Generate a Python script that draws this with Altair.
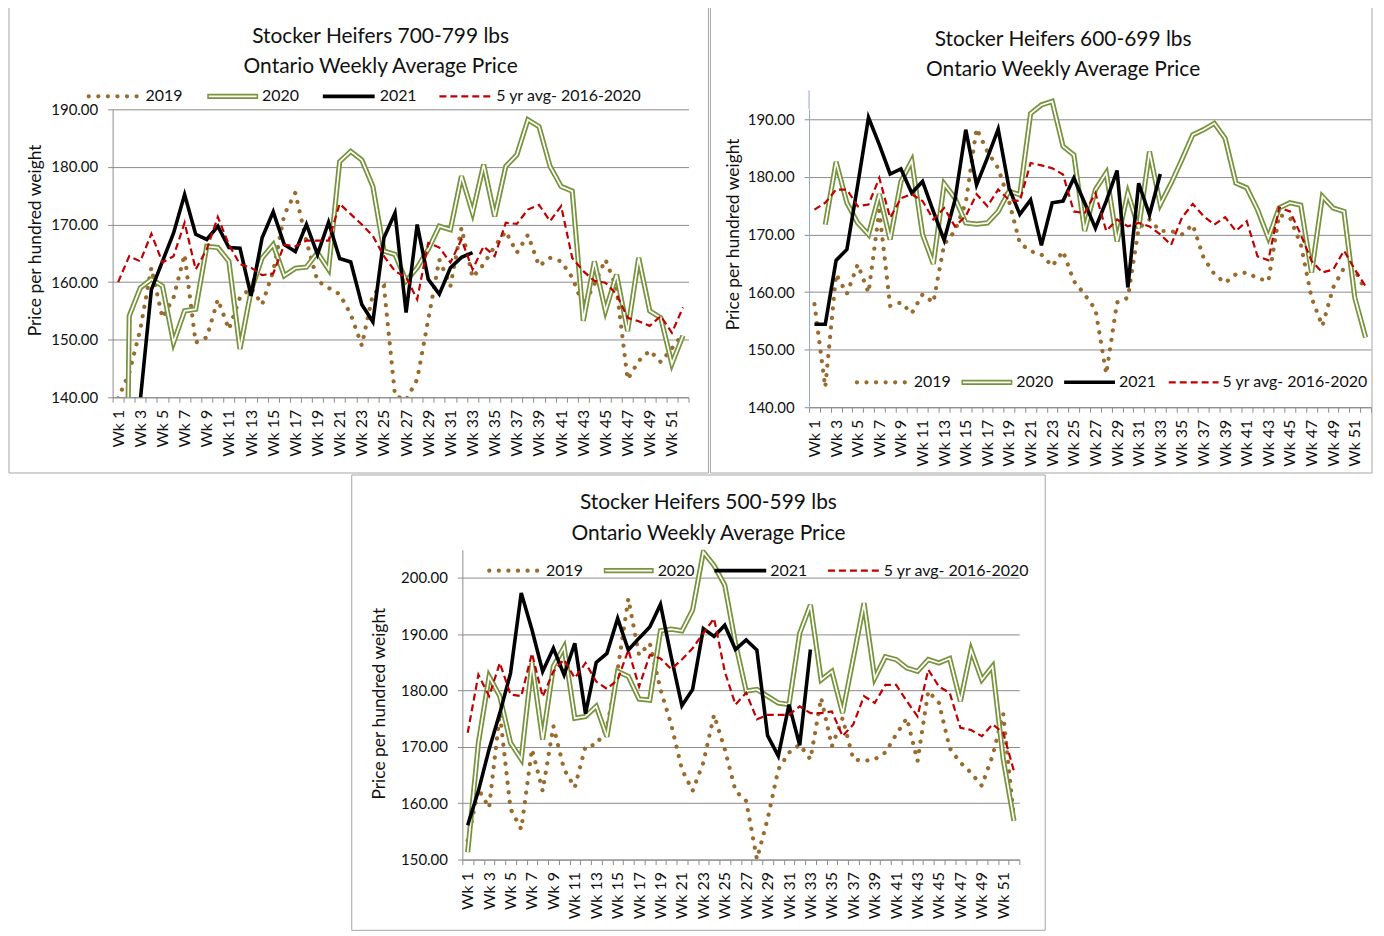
import altair as alt
import pandas as pd

FONT = "Lato"
weeks = [f"Wk {i}" for i in range(1, 53)]
series_names = ["2019", "2020", "2021", "5 yr avg- 2016-2020"]

# ---------------- Panel 1: 700-799 lbs ----------------
p1_2019 = [139.8, 144.2, 151.8, 162.5, 153.8, 157.3, 164.8, 149.5, 150.4, 157.0, 151.8, 157.3, 159.0,
           156.1, 161.9, 171.7, 175.5, 167.1, 160.2, 159.0, 157.9, 154.4, 149.0, 157.9, 159.3, 140.3,
           139.5, 143.1, 153.5, 163.9, 159.3, 169.4, 160.8, 163.1, 166.2, 168.8, 165.1, 168.2, 162.8,
           164.2, 163.6, 160.8, 155.9, 159.6, 163.9, 159.0, 143.1, 146.3, 148.1, 146.1, 148.5, 151.0]
p1_2020 = [0.0, 154.1, 159.0, 160.5, 159.3, 149.5, 155.0, 155.3, 166.2, 166.0, 163.6, 148.4, 158.5,
           164.2, 166.5, 161.1, 162.4, 162.6, 165.1, 162.2, 180.9, 182.7, 181.2, 176.6, 165.4, 164.8,
           160.2, 162.5, 165.7, 169.7, 169.1, 178.4, 172.0, 180.4, 171.4, 180.1, 182.1, 188.2, 187.0,
           180.1, 176.6, 175.8, 153.3, 163.6, 155.0, 161.3, 151.5, 164.2, 155.0, 153.8, 145.8, 150.7]
p1_2021 = [None, None, 139.5, 158.7, 163.6, 168.5, 175.2, 168.3, 167.4, 169.7, 166.0, 165.9, 157.6,
           167.7, 172.2, 166.5, 165.3, 170.0, 164.8, 170.4, 164.1, 163.5, 156.1, 153.1, 167.7, 172.0,
           154.7, 170.0, 160.5, 157.9, 162.5, 164.3, 165.1]
p1_avg = [160.0, 164.5, 163.6, 168.4, 163.4, 164.5, 170.3, 162.2, 165.7, 171.3, 166.5, 163.1, 162.5,
          161.2, 161.5, 166.5, 166.2, 167.2, 167.2, 167.2, 173.6, 171.8, 170.0, 168.0, 164.5, 161.9,
          160.8, 157.0, 166.8, 166.0, 163.4, 167.4, 162.2, 166.2, 164.5, 170.3, 170.1, 172.6, 173.4,
          170.6, 173.2, 164.2, 161.9, 160.2, 159.9, 157.9, 153.8, 153.2, 152.4, 154.1, 151.2, 155.6]

# ---------------- Panel 2: 600-699 lbs ----------------
p2_2019 = [157.9, 143.5, 163.1, 159.7, 164.8, 159.9, 174.1, 157.6, 158.2, 156.3, 159.6, 158.2, 168.3,
           170.6, 175.5, 188.4, 184.4, 181.5, 175.8, 168.5, 167.1, 166.5, 164.5, 167.1, 161.9, 159.6,
           157.0, 145.8, 158.2, 159.0, 171.1, 172.6, 170.6, 170.6, 170.0, 171.7, 166.0, 163.1, 161.6,
           163.1, 163.4, 162.4, 161.9, 173.4, 172.9, 168.3, 159.0, 154.1, 160.8, 164.2, 163.9, 160.2]
p2_2020 = [None, 171.7, 182.6, 175.5, 172.0, 170.0, 177.0, 169.1, 179.2, 182.8, 170.0, 164.9, 178.8,
           176.3, 172.0, 171.8, 172.0, 174.0, 177.5, 176.9, 191.0, 192.5, 193.1, 185.3, 183.8, 170.6,
           177.8, 180.7, 168.8, 177.2, 171.1, 184.4, 175.2, 178.9, 183.0, 187.3, 188.2, 189.3, 186.7,
           178.9, 178.1, 174.3, 169.4, 174.6, 175.5, 175.1, 163.4, 176.6, 174.6, 174.0, 159.0, 152.1]
p2_2021 = [154.4, 154.4, 165.5, 167.4, 178.6, 190.3, 185.6, 180.5, 181.4, 177.2, 179.2, 174.0, 169.0,
           176.0, 188.2, 178.6, 183.3, 188.3, 178.1, 173.5, 176.0, 168.1, 175.5, 175.8, 179.8, 175.5,
           171.1, 175.8, 181.1, 160.8, 178.9, 173.4, 180.5]
p2_avg = [174.3, 175.5, 177.8, 177.8, 174.9, 175.2, 179.8, 172.9, 176.3, 177.0, 175.8, 172.6, 174.6,
          171.4, 173.2, 177.0, 174.9, 177.8, 176.0, 175.8, 182.4, 182.0, 181.5, 180.4, 174.0, 173.7,
          177.2, 170.6, 172.6, 171.4, 172.0, 171.4, 170.0, 168.2, 172.9, 175.3, 173.2, 171.7, 173.0,
          170.6, 172.3, 166.2, 165.5, 174.7, 174.0, 170.0, 165.4, 163.4, 163.9, 167.2, 163.9, 161.0]

# ---------------- Panel 3: 500-599 lbs ----------------
p3_2019 = [153.4, 162.5, 159.2, 176.0, 159.0, 155.4, 169.6, 162.2, 173.7, 166.0, 162.8, 170.1, 170.4,
           173.4, 183.7, 196.3, 186.3, 188.4, 180.2, 174.0, 166.0, 162.2, 167.2, 175.7, 169.6, 162.2,
           160.4, 150.1, 157.2, 166.0, 169.0, 170.4, 167.8, 178.7, 170.1, 175.1, 167.8, 167.5, 167.8,
           169.0, 172.2, 175.1, 167.5, 179.9, 177.8, 169.8, 167.2, 165.4, 163.1, 168.4, 175.9, 157.2]
p3_2020 = [151.3, 170.7, 182.5, 179.0, 170.7, 167.8, 184.9, 171.3, 184.3, 187.7, 175.1, 175.4, 177.2,
           171.8, 183.4, 182.5, 178.5, 178.3, 190.6, 190.9, 190.6, 194.3, 204.6, 202.2, 198.7, 188.4,
           179.9, 180.2, 179.0, 177.8, 177.5, 190.2, 195.2, 181.9, 183.4, 176.0, 185.7, 195.5, 182.2,
           186.0, 185.5, 184.0, 183.4, 185.5, 184.9, 185.7, 178.1, 187.2, 181.9, 184.3, 167.8, 156.9]
p3_2021 = [156.1, 162.2, 169.6, 176.0, 183.1, 197.3, 190.8, 183.4, 187.5, 182.8, 188.4, 175.9, 185.0,
           186.6, 192.8, 187.2, 189.3, 191.3, 195.3, 186.0, 177.3, 180.2, 191.0, 189.6, 191.6, 187.3,
           189.0, 187.2, 172.0, 168.4, 177.5, 170.3, 187.3]
p3_avg = [172.5, 182.8, 179.0, 184.9, 179.3, 179.0, 186.6, 178.9, 183.4, 185.5, 182.2, 184.9, 181.6,
          180.3, 181.9, 187.2, 180.7, 186.3, 185.7, 183.8, 185.5, 187.5, 190.2, 192.8, 183.4, 177.5,
          179.6, 174.9, 175.7, 175.7, 175.7, 177.2, 176.0, 176.0, 176.3, 171.9, 174.0, 179.0, 177.8,
          181.0, 181.0, 178.1, 175.4, 183.7, 180.7, 179.6, 173.4, 173.0, 171.9, 174.0, 172.5, 165.7]

titles = [("Stocker Heifers 700-799 lbs", "Ontario Weekly Average Price"),
          ("Stocker Heifers 600-699 lbs", "Ontario Weekly Average Price"),
          ("Stocker Heifers 500-599 lbs", "Ontario Weekly Average  Price")]
y_title = "Price per hundred weight"

# ---------------- styles ----------------
BROWN = "#9A6B2F"
GREEN = "#77933C"
RED = "#C00000"
GRID = "#8C8C8C"
TEXT = "#111111"

STYLE = {
    "2019": dict(color=BROWN, strokeWidth=4.2, strokeDash=[0.1, 9.5], strokeCap="round"),
    "2021": dict(color="#000000", strokeWidth=3.6, strokeCap="butt"),
    "5 yr avg- 2016-2020": dict(color=RED, strokeWidth=2.2, strokeDash=[7, 4]),
}


def long_df(vals):
    rows = []
    for s, arr in zip(series_names, vals):
        for w, v in zip(weeks, arr):
            if v is not None:
                rows.append({"week": w, "series": s, "price": v})
    return pd.DataFrame(rows)


one = pd.DataFrame({"k": [0]})


def panel(vals, ttl, domain, yvals, w, h, frame, tpos, legend_y, legend_items, ytpos, axis_color,
          clip=True, axis_ext=0):
    df = long_df(vals)
    x = alt.X("week:N", sort=weeks,
              scale=alt.Scale(type="band", domain=weeks, paddingInner=0, paddingOuter=0),
              bandPosition=0.5,
              axis=alt.Axis(title=None, labelAngle=270, labelAlign="right", labelBaseline="middle",
                            labelPadding=7, tickBand="extent", tickSize=5, tickColor=GRID,
                            domainColor=GRID, labelFont=FONT, labelFontSize=16, labelColor=TEXT,
                            labelOverlap=False, grid=False,
                            labelExpr="parseInt(substring(datum.value, 3)) % 2 == 1 ? datum.value : ''"))
    y = alt.Y("price:Q", scale=alt.Scale(domain=domain, nice=False, zero=False),
              axis=alt.Axis(title=y_title, values=yvals, format=".2f", grid=True, gridColor=GRID,
                            gridWidth=1, tickSize=5, tickColor=GRID, domainColor=axis_color,
                            labelPadding=10, labelFont=FONT, labelFontSize=15, labelColor=TEXT,
                            titleFont=FONT, titleFontSize=17.5, titleFontWeight="normal", titleColor=TEXT,
                            titleAngle=270, titleAlign="center", titleBaseline="middle",
                            titleX=ytpos[0], titleY=ytpos[1]))
    base = alt.Chart(df).encode(x=x, y=y)
    layers = []
    layers.append(base.transform_filter(alt.datum.series == "2019").mark_line(clip=clip, **STYLE["2019"]))
    layers.append(base.transform_filter(alt.datum.series == "2020").mark_line(clip=clip, color=GREEN, strokeWidth=5.2))
    layers.append(base.transform_filter(alt.datum.series == "2020").mark_line(clip=clip, color="white", strokeWidth=1.7))
    layers.append(base.transform_filter(alt.datum.series == "2021").mark_line(clip=clip, **STYLE["2021"]))
    layers.append(base.transform_filter(alt.datum.series == "5 yr avg- 2016-2020").mark_line(clip=clip, **STYLE["5 yr avg- 2016-2020"]))

    if axis_ext:
        layers.append(alt.Chart(one).mark_rule(color=axis_color, strokeWidth=1).encode(
            x=alt.value(0), y=alt.value(-axis_ext), y2=alt.value(0)))
    # panel frame
    layers.append(alt.Chart(one).mark_rect(fillOpacity=0, stroke="#A6A6A6", strokeWidth=1).encode(
        x=alt.value(frame[0]), x2=alt.value(frame[2]), y=alt.value(frame[1]), y2=alt.value(frame[3])))
    # titles
    for txt, ty in zip(ttl, tpos[1:]):
        layers.append(alt.Chart(one).mark_text(font=FONT, fontSize=21, color=TEXT, align="center",
                                               baseline="middle").encode(
            x=alt.value(tpos[0]), y=alt.value(ty), text=alt.value(txt)))
    # legend
    for name, (a, b, tx) in zip(series_names, legend_items):
        if name == "2020":
            layers.append(alt.Chart(one).mark_rule(color=GREEN, strokeWidth=5.2).encode(
                x=alt.value(a), x2=alt.value(b), y=alt.value(legend_y)))
            layers.append(alt.Chart(one).mark_rule(color="white", strokeWidth=1.7).encode(
                x=alt.value(a + 1.5), x2=alt.value(b - 1.5), y=alt.value(legend_y)))
        else:
            layers.append(alt.Chart(one).mark_rule(**STYLE[name]).encode(
                x=alt.value(a), x2=alt.value(b), y=alt.value(legend_y)))
        layers.append(alt.Chart(one).mark_text(font=FONT, fontSize=16, color=TEXT, align="left",
                                               baseline="middle").encode(
            x=alt.value(tx), y=alt.value(legend_y), text=alt.value(name)))
    return alt.layer(*layers).properties(width=w, height=h)


p1 = panel([p1_2019, p1_2020, p1_2021, p1_avg], titles[0], [140, 190], [140, 150, 160, 170, 180, 190],
           578, 289, (-104, -103, 598, 365), (269, -73, -42), -13,
           [(-24, 28, 33), (95, 146, 150), (211, 263, 268), (328, 380, 385)], (-77, 131), GRID)
p2 = panel([p2_2019, p2_2020, p2_2021, p2_avg], titles[1], [140, 191.73], [140, 150, 160, 170, 180, 190],
           564, 299, (-99, -103, 565, 365), (255, -70, -39), 274,
           [(48, 101, 105), (153, 204, 208), (256, 307, 311), (361, 411, 415)], (-76, 125), "#8EA9C8",
           clip=False, axis_ext=19)
p3 = panel([p3_2019, p3_2020, p3_2021, p3_avg], titles[2], [150, 205], [150, 160, 170, 180, 190, 200],
           559, 311, (-111, -75, 585, 382), (247, -47, -16), 21,
           [(27, 80, 84), (142, 192, 196), (253, 305, 309), (367, 419, 423)], (-83, 154), GRID)

# blank (white) spacer that shifts the bottom panel to the right, as in the original layout
SPACER_W = 238
spacer = alt.Chart(one).mark_rule(color="white", strokeWidth=1).encode(
    x=alt.value(0), x2=alt.value(SPACER_W), y=alt.value(0)).properties(width=SPACER_W, height=1)

chart = alt.vconcat(alt.hconcat(p1, p2, spacing=0), alt.hconcat(spacer, p3, spacing=0),
                    spacing=0).properties(
    padding={"left": 0, "top": -4, "right": 0, "bottom": 0}, background="white").configure_view(strokeWidth=0)

chart.save("out.html", embed_options={"renderer": "svg", "actions": False})
